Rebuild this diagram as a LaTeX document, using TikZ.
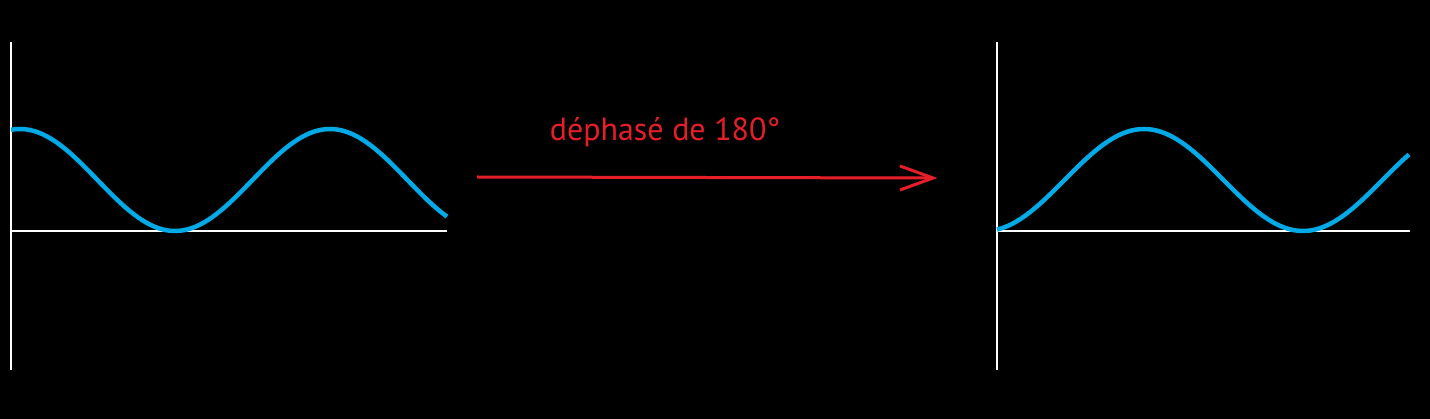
\documentclass[tikz,border=0pt]{standalone}
\usepackage{fontspec}
\setmainfont{PT Sans}
\begin{document}
\begin{tikzpicture}[x=1pt,y=-1pt,
  axis/.style={draw=white,line width=2pt},
  wave/.style={draw=wavecol,line width=4.5pt},
  shiftarrow/.style={draw=arrowred,line width=3pt}]
\definecolor{wavecol}{RGB}{0,170,230}
\definecolor{arrowred}{RGB}{230,30,40}
\fill[black] (0,0) rectangle (1430,419);
\useasboundingbox (0,0) rectangle (1430,419);
% left graph
\draw[axis] (11,42) -- (11,370);
\draw[axis] (11,231) -- (447,231);
\draw[wave] plot[domain=11:447,samples=150] (\x,{180-51*cos((\x-330)/310*360)});
% right graph
\draw[axis] (997,42) -- (997,370);
\draw[axis] (997,231) -- (1410,231);
\draw[wave] plot[domain=997:1409,samples=150] (\x,{180+51*cos((\x-1303)/318*360)});
% arrow
\coordinate (as) at (477,177);
\coordinate (ae) at (933,178);
\coordinate (ht) at (900,166);
\coordinate (hb) at (900,190);
\draw[shiftarrow] (as) -- (ae);
\draw[shiftarrow,line join=miter] (ht) -- (ae) -- (hb);
\node[text=arrowred,font=\fontsize{32}{38}\selectfont,anchor=base,inner sep=0pt] (lbl) at (665,141) {déphasé de 180°};
\end{tikzpicture}
\end{document}
